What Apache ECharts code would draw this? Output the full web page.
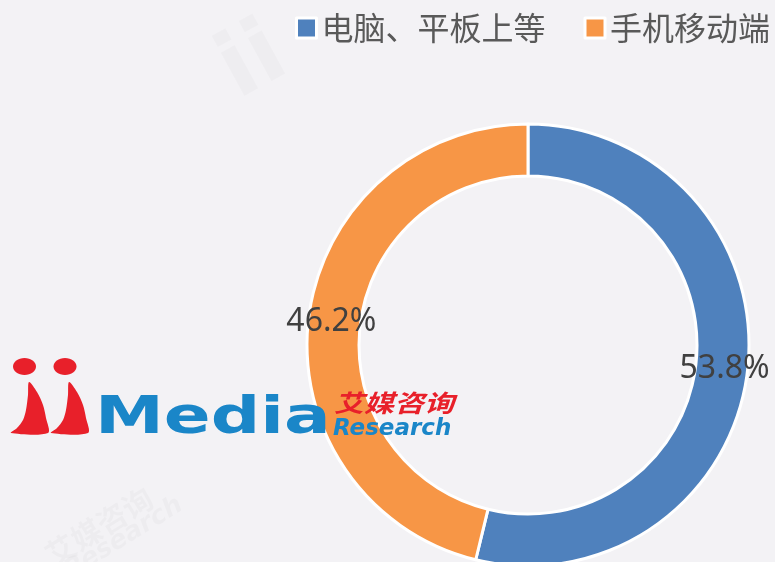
<!DOCTYPE html>
<html>
<head>
<meta charset="utf-8">
<script src="https://cdn.jsdelivr.net/npm/echarts@6/dist/echarts.min.js"></script>
<style>
  html, body { margin: 0; padding: 0; background: #f3f2f5; }
  #main { width: 775px; height: 562px; }
</style>
</head>
<body>
<div id="main"></div>
<script>
var categories = ["电脑、平板上等", "手机移动端"];
var shares = [53.8, 46.2];
var colors = ["#4f81bd", "#f79646"];

// one "i" of the logo, tip at (tx, 382)
function leg(tx) {
    return [[tx, 382], [tx + 8, 392], [tx + 14, 405], [tx + 17, 418], [tx + 19, 433],
        [tx - 18, 433], [tx - 12, 428], [tx - 6, 420], [tx - 3, 410], [tx - 1, 395]];
}

var chart = echarts.init(document.getElementById("main"));
var option = {
    backgroundColor: "#f3f2f5",
    color: colors,
    legend: {
        data: categories,
        orient: "horizontal",
        left: 295,
        top: 12,
        width: 480,
        padding: 0,
        icon: "rect",
        itemWidth: 20,
        itemHeight: 20,
        itemGap: 38,
        itemStyle: { borderColor: "#fff", borderWidth: 3 },
        textStyle: { fontSize: 32, color: "#595959", fontFamily: "Noto Sans CJK SC" }
    },
    series: [{
        type: "pie",
        center: [528, 345],
        radius: [169, 221],
        startAngle: 90,
        clockwise: true,
        avoidLabelOverlap: false,
        itemStyle: { borderColor: "#fff", borderWidth: 3 },
        label: {
            position: "inside",
            formatter: "{c}%",
            fontSize: 32,
            color: "#404040",
            textBorderWidth: 0,
            fontFamily: "Noto Sans"
        },
        labelLine: { show: false },
        data: categories.map(function (name, i) {
            return { name: name, value: shares[i] };
        })
    }],
    graphic: [
        // faint watermarks
        { type: "text", left: 205, top: 10, rotation: 0.5, z: 1,
          style: { text: "ii", fontSize: 90, fontWeight: "bold", fill: "rgba(0,0,0,0.018)", fontFamily: "DejaVu Sans" } },
        { type: "text", x: 40, y: 545, rotation: 0.55, z: 1,
          style: { text: "艾媒咨询", fontSize: 30, fontWeight: "bold", fill: "rgba(0,0,0,0.022)", fontFamily: "Noto Sans CJK SC" } },
        { type: "text", x: 60, y: 562, rotation: 0.55, z: 1,
          style: { text: "Research", fontSize: 26, fontStyle: "italic", fontWeight: "bold", fill: "rgba(0,0,0,0.022)", fontFamily: "DejaVu Sans" } },
        // iiMedia logo
        { type: "ellipse", z: 100, shape: { cx: 24.5, cy: 366.5, rx: 11.5, ry: 8.5 }, style: { fill: "#e8202a" } },
        { type: "ellipse", z: 100, shape: { cx: 65, cy: 366.5, rx: 11.5, ry: 8.5 }, style: { fill: "#e8202a" } },
        { type: "polygon", z: 100, shape: { points: leg(29), smooth: 0.3 }, style: { fill: "#e8202a" } },
        { type: "polygon", z: 100, shape: { points: leg(69), smooth: 0.3 }, style: { fill: "#e8202a" } },
        { type: "text", z: 100, x: 95, y: 445, scaleX: 1.33,
          style: { text: "Media", fontSize: 52, fontWeight: "bold", fill: "#1a86c8", fontFamily: "DejaVu Sans", verticalAlign: "bottom" } },
        { type: "text", z: 100, x: 334, y: 391, scaleX: 1.25,
          style: { text: "艾媒咨询", fontSize: 24, fontWeight: "bold", fontStyle: "italic", fill: "#e8202a", fontFamily: "Noto Sans CJK SC" } },
        { type: "text", z: 100, x: 333, y: 441,
          style: { text: "Research", fontSize: 23, fontWeight: "bold", fontStyle: "italic", fill: "#1a86c8", fontFamily: "DejaVu Sans", verticalAlign: "bottom" } }
    ]
};
chart.setOption(option);
window.addEventListener("resize", chart.resize);
</script>
</body>
</html>
